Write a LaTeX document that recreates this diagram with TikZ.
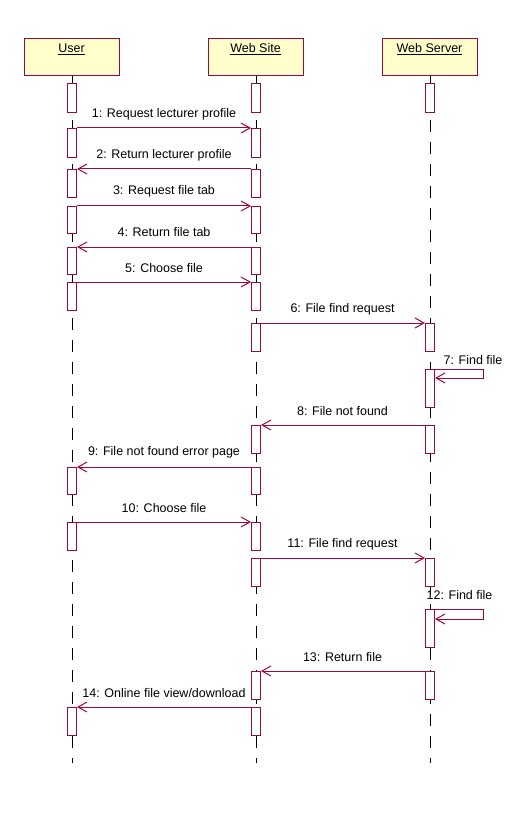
\documentclass[tikz,border=0pt]{standalone}
\usepackage{fontspec}
\setmainfont{Liberation Sans}
\usetikzlibrary{arrows.meta}
\definecolor{crim}{HTML}{9C0A3C}
\definecolor{headfill}{HTML}{FFFFCC}
\tikzset{
  head/.style={draw=crim, fill=headfill, line width=1pt, minimum width=95pt, minimum height=37pt, inner sep=0pt},
  act/.style={draw=crim, fill=white, line width=1pt, minimum width=9pt, inner sep=0pt, anchor=north},
  lifeline/.style={draw=black, line width=1pt, dash pattern=on 12pt off 10pt},
  msg/.style={draw=crim, line width=1pt, -{Straight Barb[length=9pt,width=10pt,line width=1pt]}},
  lbl/.style={font=\fontsize{12.5}{14}\selectfont, inner sep=0pt, text=black},
}
\newcommand\actbox[4]{\node[act, minimum height=#4pt] (#1) at (#2,#3) {};}
\begin{document}
\begin{tikzpicture}[x=1pt,y=-1pt]
\useasboundingbox (0,0) rectangle (530,834);
% headers
\node[head, label={[lbl, anchor=center]north:{}}] (user) at (71.5,57) {};
\node[head] (site) at (255.5,57) {};
\node[head] (server) at (429.5,57) {};
\node[lbl] (usert) at (71.5,49) {\underline{User}};
\node[lbl] (sitet) at (255.5,49) {\underline{Web Site}};
\node[lbl] (servert) at (429.5,49) {\underline{Web Server}};
% lifeline ends
\coordinate (uend) at (72,763);
\coordinate (wend) at (256,763);
\coordinate (send) at (430,763);
\draw[lifeline] (user.south -| uend) -- (uend);
\draw[lifeline] (site.south -| wend) -- (wend);
\draw[lifeline] (server.south -| send) -- (send);
% activations: User
\actbox{u0}{72}{83}{29}
\actbox{u1}{72}{128}{29}
\actbox{u2}{72}{169}{28}
\actbox{u3}{72}{206}{27}
\actbox{u4}{72}{247}{27}
\actbox{u5}{72}{282}{28}
\actbox{u9}{72}{467}{27}
\actbox{u10}{72}{522}{28}
\actbox{u14}{72}{707}{28}
% Web Site
\actbox{w0}{256}{83}{29}
\actbox{w1}{256}{128}{29}
\actbox{w2}{256}{169}{28}
\actbox{w3}{256}{206}{27}
\actbox{w4}{256}{247}{27}
\actbox{w5}{256}{282}{28}
\actbox{w6}{256}{323}{28}
\actbox{w8}{256}{425}{28}
\actbox{w9}{256}{467}{27}
\actbox{w10}{256}{522}{28}
\actbox{w11}{256}{558}{28}
\actbox{w13}{256}{671}{28}
\actbox{w14}{256}{707}{28}
% Web Server
\actbox{s0}{430}{83}{29}
\actbox{s6}{430}{323}{28}
\actbox{s7}{430}{369}{38}
\actbox{s8}{430}{425}{28}
\actbox{s11}{430}{558}{28}
\actbox{s12}{430}{609}{38}
\actbox{s13}{430}{671}{28}
% messages
\draw[msg] (u1.north east) -- (w1.north west);
\draw[msg] (w2.north west) -- (u2.north east);
\draw[msg] (u3.north east) -- (w3.north west);
\draw[msg] (w4.north west) -- (u4.north east);
\draw[msg] (u5.north east) -- (w5.north west);
\draw[msg] (w6.north east) -- (s6.north west);
\draw[msg] (s7.north east) -- ++(48.5,0) -- ++(0,9) -- ([yshift=-9pt]s7.north east);
\draw[msg] (s8.north west) -- (w8.north east);
\draw[msg] (w9.north west) -- (u9.north east);
\draw[msg] (u10.north east) -- (w10.north west);
\draw[msg] (w11.north east) -- (s11.north west);
\draw[msg] (s12.north east) -- ++(48.5,0) -- ++(0,10) -- ([yshift=-10pt]s12.north east);
\draw[msg] (s13.north west) -- (w13.north east);
\draw[msg] (w14.north west) -- (u14.north east);
% labels
\node[lbl] (l1) at (164,114) {1: Request lecturer profile};
\node[lbl] (l2) at (164,155) {2: Return lecturer profile};
\node[lbl] (l3) at (164,191.5) {3: Request file tab};
\node[lbl] (l4) at (164,232.5) {4: Return file tab};
\node[lbl] (l5) at (164,268) {5: Choose file};
\node[lbl] (l6) at (342.5,309) {6: File find request};
\node[lbl] (l7) at (473,360) {7: Find file};
\node[lbl] (l8) at (342.5,411) {8: File not found};
\node[lbl] (l9) at (164,452.5) {9: File not found error page};
\node[lbl] (l10) at (164,508) {10: Choose file};
\node[lbl] (l11) at (342.5,544) {11: File find request};
\node[lbl] (l12) at (459.5,595) {12: Find file};
\node[lbl] (l13) at (342.5,657) {13: Return file};
\node[lbl] (l14) at (164,693) {14: Online file view/download};
\end{tikzpicture}
\end{document}
